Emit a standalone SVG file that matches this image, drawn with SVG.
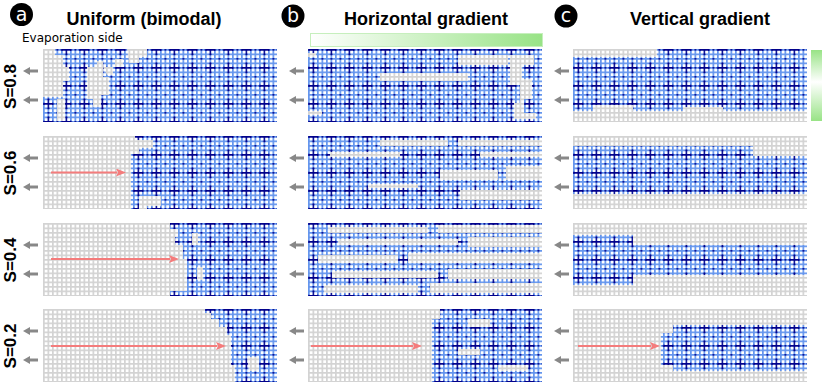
<svg xmlns="http://www.w3.org/2000/svg" width="822" height="384" viewBox="0 0 822 384">
<style>
.liq{fill:#6495ed}
.air{fill:#d3d3d3}
.big{fill:url(#big)}
.holes{fill:url(#holes)}
.title{font-family:"Liberation Sans",Arial,sans-serif;font-weight:bold;font-size:18px;fill:#000;text-anchor:middle}
.lbl{font-family:"Liberation Sans",Arial,sans-serif;font-weight:bold;font-size:17px;fill:#000;text-anchor:middle}
.circ{fill:#000}
.ctext{font-family:"DejaVu Sans",sans-serif;font-size:19px;fill:#fff;text-anchor:middle}
.evap{font-family:"DejaVu Sans",sans-serif;font-size:12px;fill:#000}
.garr{stroke:#888;stroke-width:3;fill:none;marker-end:url(#gh)}
.rarr{stroke:#f47c7c;stroke-width:2;fill:none;marker-end:url(#rh)}
</style>
<defs>
<pattern id="holes" patternUnits="userSpaceOnUse" width="4.5" height="4.5">
<rect x="1.7" y="1.7" width="2.8" height="2.8" fill="#fff"/>
</pattern>
<pattern id="big" patternUnits="userSpaceOnUse" x="-4.5" y="-9" width="18" height="18">
<rect x="4.35" y="8.75" width="11" height="2.2" fill="#00008b"/>
<rect x="8.75" y="4.35" width="2.2" height="11" fill="#00008b"/>
<rect x="0" y="0" width="1.7" height="1.7" fill="#00008b"/>
<rect x="9" y="0" width="1.7" height="1.7" fill="#00008b"/>
<rect x="0" y="9" width="1.7" height="1.7" fill="#00008b"/>
</pattern>
<linearGradient id="hg" x1="0" y1="0" x2="1" y2="0">
<stop offset="0" stop-color="#ffffff"/>
<stop offset="1" stop-color="#98e386"/>
</linearGradient>
<linearGradient id="vg" x1="0" y1="0" x2="0" y2="1">
<stop offset="0" stop-color="#98e386"/>
<stop offset="0.45" stop-color="#ffffff"/>
<stop offset="1" stop-color="#98e386"/>
</linearGradient>
<marker id="gh" markerUnits="userSpaceOnUse" markerWidth="7" markerHeight="8" viewBox="0 0 7 8" refX="1" refY="4" orient="auto">
<path d="M0,0 L7,4 L0,8 Z" fill="#888"/>
</marker>
<marker id="rh" markerUnits="userSpaceOnUse" markerWidth="10" markerHeight="8" viewBox="0 0 10 8" refX="1" refY="4" orient="auto">
<path d="M0,0 L10,4 L0,8 L2,4 Z" fill="#f47c7c"/>
</marker>
</defs>
<rect width="822" height="384" fill="#fff"/>

<g id="header-a">
<circle class="circ" cx="21.5" cy="14.5" r="11.5"/>
<text class="ctext" x="21.5" y="20.5">a</text>
<text class="title" x="144" y="25">Uniform (bimodal)</text>
<text class="evap" x="22" y="42">Evaporation side</text>
</g>
<g id="header-b">
<circle class="circ" cx="293" cy="16" r="11.5"/>
<text class="ctext" x="293" y="22">b</text>
<text class="title" x="426" y="25">Horizontal gradient</text>
<rect x="310.5" y="33.5" width="232" height="13" fill="url(#hg)" stroke="#c6efbd" stroke-width="1"/>
</g>
<g id="header-c">
<circle class="circ" cx="566" cy="16" r="11.5"/>
<text class="ctext" x="566" y="22">c</text>
<text class="title" x="700" y="25">Vertical gradient</text>
<rect x="811" y="50" width="11" height="71" fill="url(#vg)"/>
</g>

<g id="row-labels">
<text class="lbl" transform="translate(15.5,86.5) rotate(-90)">S=0.8</text>
<text class="lbl" transform="translate(15.5,173) rotate(-90)">S=0.6</text>
<text class="lbl" transform="translate(15.5,260) rotate(-90)">S=0.4</text>
<text class="lbl" transform="translate(15.5,346) rotate(-90)">S=0.2</text>
</g>

<g id="a08" transform="translate(43,49)">
<rect class="liq" width="234" height="73"/><rect class="big" width="234" height="73"/>
<path class="air" d="M0,0 H12 V6 H20 V18 H26 V32 H20 V48 H0 Z M44,18 H54 V12 H60 V28 H66 V46 H58 V58 H50 V50 H44 Z M84,0 H104 V8 H96 V14 H86 Z M14,50 H22 V72 H14 Z M60,18 H72 V10 H80 V18 H70 V26 H64 Z"/>
<rect class="holes" width="234" height="73"/>
</g>
<g id="a06" transform="translate(43,136)">
<rect class="liq" width="234" height="73"/><rect class="big" width="234" height="73"/>
<path class="air" d="M0,0 H92 V4 H110 V12 H96 V18 H88 V73 H0 Z M96,60 H118 V70 H104 V73 H96 Z"/>
<rect class="holes" width="234" height="73"/>
</g>
<g id="a04" transform="translate(43,223)">
<rect class="liq" width="234" height="73"/><rect class="big" width="234" height="73"/>
<path class="air" d="M0,0 H127 V6 H135 V14 H132 V22 H140 V36 H144 V68 H127 V73 H0 Z M149,10 H155 V22 H149 Z M154,44 H160 V57 H154 Z"/>
<rect class="holes" width="234" height="73"/>
</g>
<g id="a02" transform="translate(43,309)">
<rect class="liq" width="234" height="73"/><rect class="big" width="234" height="73"/>
<path class="air" d="M0,0 H162 V4 H168 V10 H176 V18 H184 V26 H188 V56 H192 V73 H0 Z M204,48 H216 V62 H206 Z"/>
<rect class="holes" width="234" height="73"/>
</g>

<g id="b08" transform="translate(308,49)">
<rect class="liq" width="234" height="73"/><rect class="big" width="234" height="73"/>
<path class="air" d="M0,4 H8 V8 H0 Z M72,24 H160 V32 H72 Z M150,6 H200 V16 H150 Z M202,6 H226 V16 H214 V30 H224 V50 H216 V64 H228 V70 H206 V54 H212 V36 H202 Z M0,62 H14 V66 H0 Z"/>
<rect class="holes" width="234" height="73"/>
</g>
<g id="b06" transform="translate(308,136)">
<rect class="liq" width="234" height="73"/><rect class="big" width="234" height="73"/>
<path class="air" d="M72,4 H140 V10 H72 Z M150,4 H234 V10 H150 Z M22,16 H92 V21 H22 Z M172,16 H234 V21 H172 Z M132,34 H190 V44 H132 Z M198,30 H234 V44 H198 Z M152,54 H234 V64 H152 Z M60,48 H110 V52 H60 Z"/>
<rect class="holes" width="234" height="73"/>
</g>
<g id="b04" transform="translate(308,223)">
<rect class="liq" width="234" height="73"/><rect class="big" width="234" height="73"/>
<path class="air" d="M20,4 H120 V10 H20 Z M130,2 H234 V10 H130 Z M30,16 H150 V22 H30 Z M160,14 H234 V24 H160 Z M10,32 H90 V40 H10 Z M100,30 H234 V40 H100 Z M24,48 H130 V55 H24 Z M140,46 H234 V56 H140 Z M16,62 H110 V70 H16 Z M122,60 H234 V70 H122 Z"/>
<rect class="holes" width="234" height="73"/>
</g>
<g id="b02" transform="translate(308,309)">
<rect class="liq" width="234" height="73"/><rect class="big" width="234" height="73"/>
<path class="air" d="M0,0 H132 V10 H124 V73 H0 Z M160,10 H182 V18 H160 Z M150,40 H172 V46 H150 Z M190,56 H220 V62 H190 Z"/>
<rect class="holes" width="234" height="73"/>
</g>

<g id="c08" transform="translate(573,49)">
<rect class="liq" width="234" height="73"/><rect class="big" width="234" height="73"/>
<path class="air" d="M0,0 H84 V8 H0 Z M0,62 H234 V73 H0 Z M20,56 H60 V62 H20 Z M110,58 H150 V62 H110 Z"/>
<rect class="holes" width="234" height="73"/>
</g>
<g id="c06" transform="translate(573,136)">
<rect class="liq" width="234" height="73"/><rect class="big" width="234" height="73"/>
<path class="air" d="M0,0 H234 V10 H0 Z M0,58 H234 V73 H0 Z M180,10 H234 V20 H180 Z"/>
<rect class="holes" width="234" height="73"/>
</g>
<g id="c04" transform="translate(573,223)">
<rect class="liq" width="234" height="73"/><rect class="big" width="234" height="73"/>
<path class="air" d="M0,0 H234 V22 H60 V12 H0 Z M0,62 H60 V52 H234 V73 H0 Z"/>
<rect class="holes" width="234" height="73"/>
</g>
<g id="c02" transform="translate(573,309)">
<rect class="liq" width="234" height="73"/><rect class="big" width="234" height="73"/>
<path class="air" d="M0,0 H234 V16 H100 V24 H88 V56 H100 V62 H234 V73 H0 Z"/>
<rect class="holes" width="234" height="73"/>
</g>

<g id="connectors">
<path class="garr" d="M38,71 H29"/>
<path class="garr" d="M38,100 H29"/>
<path class="garr" d="M38,158 H29"/>
<path class="garr" d="M38,187 H29"/>
<path class="garr" d="M38,245 H29"/>
<path class="garr" d="M38,274 H29"/>
<path class="garr" d="M38,331 H29"/>
<path class="garr" d="M38,360 H29"/>
<path class="garr" d="M304,71 H295"/>
<path class="garr" d="M304,100 H295"/>
<path class="garr" d="M304,158 H295"/>
<path class="garr" d="M304,187 H295"/>
<path class="garr" d="M304,245 H295"/>
<path class="garr" d="M304,274 H295"/>
<path class="garr" d="M304,331 H295"/>
<path class="garr" d="M304,360 H295"/>
<path class="garr" d="M569,71 H560"/>
<path class="garr" d="M569,100 H560"/>
<path class="garr" d="M569,158 H560"/>
<path class="garr" d="M569,187 H560"/>
<path class="garr" d="M569,245 H560"/>
<path class="garr" d="M569,274 H560"/>
<path class="garr" d="M569,331 H560"/>
<path class="garr" d="M569,360 H560"/>
<path class="rarr" d="M51,172.5 H117"/>
<path class="rarr" d="M51,259 H170"/>
<path class="rarr" d="M51,346 H217"/>
<path class="rarr" d="M311,346 H413"/>
<path class="rarr" d="M578,346 H651"/>
</g>
</svg>
